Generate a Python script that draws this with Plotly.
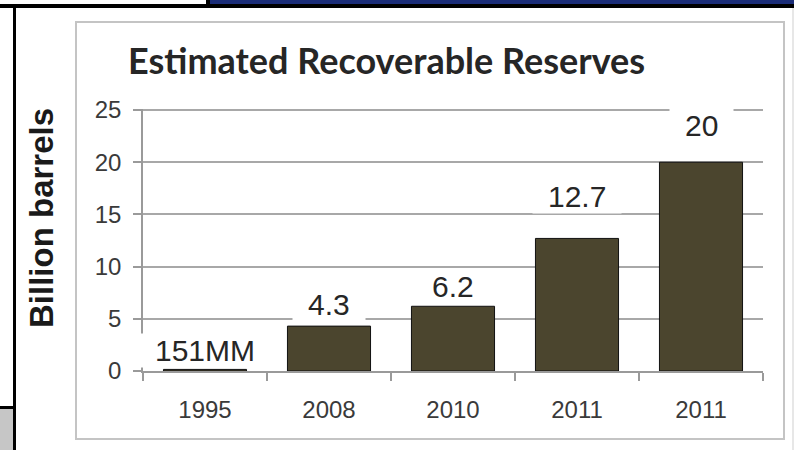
import plotly.graph_objects as go

# ---- data ----
tick_text = ["1995", "2008", "2010", "2011", "2011"]
values = [0.151, 4.3, 6.2, 12.7, 20]
label_text = ["151MM", "4.3", "6.2", "12.7", "20"]
label_lift = [1.85, 2.1, 1.85, 4.0, 3.5]   # how far above each bar the label sits
positions = list(range(len(tick_text)))
boundaries = [p - 0.5 for p in positions] + [positions[-1] + 0.5]
y_ticks = [0, 5, 10, 15, 20, 25]

W, H = 794, 450
PX0, PX1, PY0, PY1 = 143, 763, 109, 371   # plot area in pixels


def px(x):
    return (x - PX0) / (PX1 - PX0)


def py(y):
    return (PY1 - y) / (PY1 - PY0)


BAR = "#4B452E"
TXT = "#3a3a3a"
AX = "#9a9a9a"

fig = go.Figure()
fig.add_trace(go.Bar(
    x=positions, y=values,
    marker=dict(color=BAR, line=dict(color="#111111", width=1)),
    hoverinfo="skip",
))

char_w = {".": 0.278, "M": 0.833}
annotations = []
for p, v, t, lift in zip(positions, values, label_text, label_lift):
    fs = 30
    wbox = sum(char_w.get(ch, 0.556) for ch in t) * fs + 30
    annotations.append(dict(
        x=p, y=v + lift, xref="x", yref="y", text=t, showarrow=False,
        font=dict(family="Liberation Sans, Arial", size=fs, color="#262626"),
        bgcolor="white", width=wbox, height=33, borderpad=0,
    ))

# y-axis title
annotations.append(dict(
    x=px(41), y=py(218), xref="paper", yref="paper", text="<b>Billion barrels</b>",
    textangle=-90, showarrow=False, xanchor="center", yanchor="middle",
    font=dict(family="Liberation Sans, Arial", size=33, color="#1a1a1a"),
))
# chart title
annotations.append(dict(
    x=px(386), y=py(60), xref="paper", yref="paper", text="<b>Estimated Recoverable Reserves</b>",
    showarrow=False, xanchor="center", yanchor="middle",
    font=dict(family="Lato, Carlito, Calibri", size=36, color="#262626"),
))

shapes = [
    # chart frame
    dict(type="rect", xref="paper", yref="paper", x0=px(76), x1=px(784), y0=py(439), y1=py(22),
         line=dict(color="#c4c4c4", width=2), fillcolor="rgba(0,0,0,0)", layer="below"),
    # blue band top right
    dict(type="rect", xref="paper", yref="paper", x0=px(209), x1=px(794), y0=py(5), y1=py(0),
         line=dict(width=0), fillcolor="#1b2d78"),
    # black top rule
    dict(type="rect", xref="paper", yref="paper", x0=px(0), x1=px(794), y0=py(8), y1=py(4),
         line=dict(width=0), fillcolor="#000000"),
    # black short vertical at top
    dict(type="rect", xref="paper", yref="paper", x0=px(206), x1=px(210), y0=py(8), y1=py(0),
         line=dict(width=0), fillcolor="#000000"),
    # left black vertical
    dict(type="rect", xref="paper", yref="paper", x0=px(13), x1=px(16), y0=py(450), y1=py(4),
         line=dict(width=0), fillcolor="#000000"),
    # bottom-left grey box
    dict(type="rect", xref="paper", yref="paper", x0=px(0), x1=px(13), y0=py(450), y1=py(409),
         line=dict(width=0), fillcolor="#c6c6c6"),
    dict(type="rect", xref="paper", yref="paper", x0=px(0), x1=px(13), y0=py(409), y1=py(406),
         line=dict(width=0), fillcolor="#000000"),
    # thin right edge line
    dict(type="line", xref="paper", yref="paper", x0=px(793), x1=px(793), y0=py(450), y1=py(8),
         line=dict(color="#cfcfcf", width=1)),
]

fig.update_layout(
    width=W, height=H,
    margin=dict(l=PX0, r=W - PX1, t=PY0, b=H - PY1, pad=0, autoexpand=False),
    paper_bgcolor="white", plot_bgcolor="white",
    showlegend=False,
    bargap=0.33,
    annotations=annotations,
    shapes=shapes,
    xaxis=dict(
        range=[boundaries[0], boundaries[-1]],
        tickvals=positions, ticktext=tick_text, tickangle=0, automargin=False,
        showline=True, linecolor=AX, linewidth=1.5,
        ticks="",
        minor=dict(tickvals=boundaries, ticks="outside", ticklen=8, tickcolor=AX,
                   tickwidth=1.5, showgrid=False),
        tickfont=dict(family="Liberation Sans, Arial", size=24, color=TXT),
        showgrid=False, zeroline=False,
        ticklabelstandoff=16,
    ),
    yaxis=dict(
        range=[0, 25.1], tickvals=y_ticks, automargin=False,
        showline=True, linecolor=AX, linewidth=1.5,
        ticks="outside", ticklen=8, tickcolor=AX, tickwidth=1.5,
        showgrid=True, gridcolor="#a8a8a8", gridwidth=1.5,
        zeroline=False,
        tickfont=dict(family="Liberation Sans, Arial", size=24, color=TXT),
        ticklabelstandoff=7,
    ),
)

fig.write_html("out.html", config={"displayModeBar": False},
               post_script="document.body.style.margin='0';")
